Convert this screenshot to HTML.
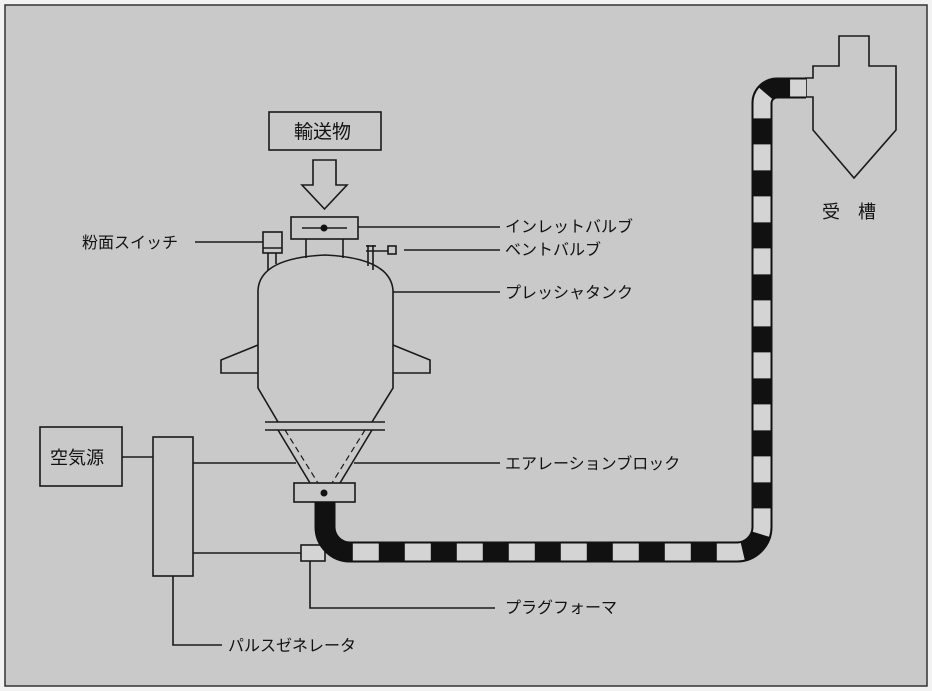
<!DOCTYPE html>
<html><head><meta charset="utf-8"><style>
html,body{margin:0;padding:0;background:#fff}
svg{display:block}
text{font-family:"Liberation Sans","Noto Sans CJK JP",sans-serif;fill:#111}
</style></head><body>
<svg width="932" height="691" viewBox="0 0 932 691" xmlns="http://www.w3.org/2000/svg">
<rect x="0" y="0" width="932" height="691" fill="#f2f2f2"/>
<rect x="5" y="5" width="922" height="681" fill="#c9c9c9" stroke="#333" stroke-width="1.5"/>
<g fill="none" stroke="#1a1a1a" stroke-width="1.6">
<rect x="269" y="112" width="112" height="38"/>
<path d="M313 160 H336 V185 H347 L324.5 209 L302 185 H313 Z"/>
<rect x="291" y="217" width="67" height="22"/>
<line x1="302" y1="228" x2="347" y2="228"/>
<line x1="306" y1="239" x2="306" y2="258"/>
<line x1="343" y1="239" x2="343" y2="258"/>
<rect x="263" y="232" width="19" height="21"/>
<line x1="263" y1="248" x2="282" y2="248"/>
<line x1="268" y1="253" x2="268" y2="270"/>
<line x1="276" y1="253" x2="276" y2="264"/>
<line x1="368" y1="245" x2="368" y2="266"/>
<line x1="373" y1="245" x2="373" y2="270"/>
<line x1="366" y1="246" x2="376" y2="246"/>
<line x1="366" y1="251" x2="388" y2="251"/>
<rect x="388" y="246" width="8" height="8"/>
<path d="M258 290 Q260 258 325 255 Q390 258 393 290 L393 388 L372 422 M258 290 L258 388 L278 422"/>
<path d="M258 345 L221 360 V373 H258 M393 345 L430 360 V373 H393"/>
<line x1="265" y1="422" x2="385" y2="422"/>
<line x1="265" y1="430" x2="385" y2="430"/>
<line x1="278" y1="430" x2="310" y2="483"/>
<line x1="372" y1="430" x2="340" y2="483"/>
<line x1="285" y1="430" x2="318" y2="483" stroke-dasharray="6 4" stroke-width="1.2"/>
<line x1="365" y1="430" x2="332" y2="483" stroke-dasharray="6 4" stroke-width="1.2"/>
<rect x="294" y="483" width="61" height="19"/>
<path d="M839 36 H869 V66 H896 V130 L854 178 L813 130 V97 H806 V78 H813 V66 H839 Z"/>
<rect x="40" y="427" width="82" height="59"/>
<rect x="153" y="437" width="40" height="139"/>
<line x1="122" y1="457" x2="153" y2="457"/>
<line x1="193" y1="463" x2="296" y2="463"/>
<line x1="354" y1="463" x2="500" y2="463"/>
<line x1="193" y1="553" x2="302" y2="553"/>
<path d="M310 560 V608 H495"/>
<path d="M173 576 V645 H222"/>
<line x1="358" y1="227" x2="500" y2="227"/>
<line x1="404" y1="250" x2="500" y2="250"/>
<line x1="393" y1="292" x2="500" y2="292"/>
<line x1="195" y1="242" x2="263" y2="242"/>
</g>
<rect x="301" y="545" width="24" height="16" fill="#d4d4d4" stroke="#1a1a1a" stroke-width="1.6"/>
<path d="M325 502 V527 A25 25 0 0 0 350 552 H737 A25 25 0 0 0 762 527 V103 A15 15 0 0 1 777 88 H806" fill="none" stroke="#111" stroke-width="21"/>
<path d="M325 502 V527 A25 25 0 0 0 350 552 H737 A25 25 0 0 0 762 527 V103 A15 15 0 0 1 777 88 H806" fill="none" stroke="#d4d4d4" stroke-width="17" stroke-dasharray="0 67 26 26 26 26 26 26 26 26 26 26 26 26 26 26 26 26 26 26 26 26 26 26 26 26 26 26 26 26 26 26 26 26 26 26 26 26 26 26 26 26 26 26 26 26 26 26 26 26 26 26 26 26 26 26 26 26 26 26 26 26 26 26 26 26"/>
<circle cx="324" cy="228" r="3.5" fill="#111"/>
<circle cx="324" cy="493" r="3.5" fill="#111"/>
<g font-size="16">
<text x="294" y="138" font-size="19">輸送物</text>
<text x="505" y="232">インレットバルブ</text>
<text x="505" y="255">ベントバルブ</text>
<text x="505" y="298">プレッシャタンク</text>
<text x="505" y="469">エアレーションブロック</text>
<text x="505" y="613">プラグフォーマ</text>
<text x="228" y="651">パルスゼネレータ</text>
<text x="82" y="248">粉面スイッチ</text>
<text x="50" y="464" font-size="18">空気源</text>
<text x="822" y="218" font-size="18">受　槽</text>
</g>
</svg>
</body></html>
